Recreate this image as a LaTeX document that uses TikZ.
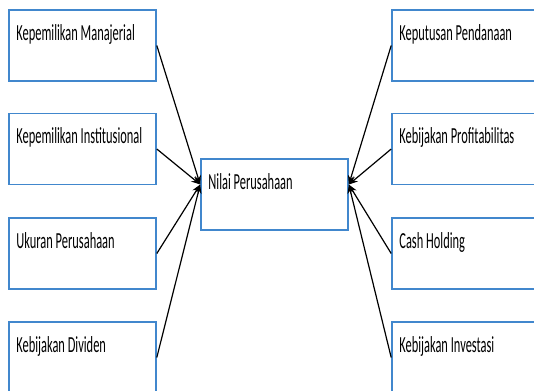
\documentclass[tikz,border=0pt]{standalone}
\usepackage{fontspec}
\setmainfont[FakeStretch=0.54]{Carlito}
\usetikzlibrary{arrows.meta}
\definecolor{boxblue}{RGB}{65,135,205}

\tikzset{
  varbox/.style={draw=boxblue, line width=1.6pt, minimum width=147pt, minimum height=71pt, inner sep=0pt},
  vartext/.style={anchor=base west, inner sep=0pt, font=\fontsize{23}{27}\selectfont},
  link/.style={line width=1.2pt, -{Stealth[length=9pt,width=7pt]}}
}

\begin{document}
\begin{tikzpicture}[x=1pt,y=-1pt]
\useasboundingbox (0,0) rectangle (534,390);
\clip (0,0) rectangle (534,390);

% Dependent variable
\node[varbox] (nilai) at (274.5,194.5) {};
\node[vartext] (tnilai) at ([xshift=8pt,yshift=-31pt]nilai.north west) {Nilai Perusahaan};

% Left variables
\foreach \y/\name/\txt in {45.5/km/{Kepemilikan Manajerial}, 149/ki/{Kepemilikan Institusional}, 253.5/up/{Ukuran Perusahaan}, 357.5/kd/{Kebijakan Dividen}} {
    \node[varbox] (\name) at (82.5,\y) {};
    \node[vartext] (t\name) at ([xshift=8pt,yshift=-31pt]\name.north west) {\txt};
    \draw[link] (\name.east) -- ([yshift=10pt]nilai.west);
}

% Right variables
\foreach \y/\name/\txt in {45.5/kp/{Keputusan Pendanaan}, 149/kpr/{Kebijakan Profitabilitas}, 253.5/ch/{Cash Holding}, 357.5/kin/{Kebijakan Investasi}} {
    \node[varbox] (\name) at (465.5,\y) {};
    \node[vartext] (t\name) at ([xshift=8pt,yshift=-31pt]\name.north west) {\txt};
    \draw[link] (\name.west) -- ([yshift=10pt]nilai.east);
}

\end{tikzpicture}
\end{document}
